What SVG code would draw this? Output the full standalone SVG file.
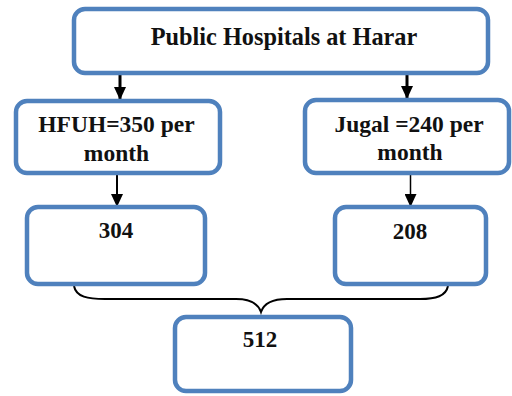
<svg xmlns="http://www.w3.org/2000/svg" width="512" height="396" viewBox="0 0 512 396">
<defs>
<style>
.box{fill:#ffffff;stroke:#4f81bd;stroke-width:4.5}
.t{font-family:"Liberation Serif","Times New Roman",serif;font-weight:bold;fill:#111111;text-anchor:middle}
.lbl{font-size:23.5px}
.num{font-size:23px}
.conn{stroke:#000000;fill:none}
</style>
<marker id="ah" viewBox="0 0 13 12" refX="12" refY="6" markerWidth="13" markerHeight="12" markerUnits="userSpaceOnUse" orient="auto">
<path d="M0,0 L13,6 L0,12 Z" fill="#000000"/>
</marker>
</defs>
<rect width="512" height="396" fill="#ffffff"/>
<g id="connectors">
<line class="conn" x1="120" y1="75" x2="120" y2="99" stroke-width="3" marker-end="url(#ah)"/>
<line class="conn" x1="407" y1="75" x2="407" y2="98" stroke-width="3" marker-end="url(#ah)"/>
<line class="conn" x1="117" y1="175" x2="117" y2="206" stroke-width="2" marker-end="url(#ah)"/>
<line class="conn" x1="410.5" y1="175" x2="410.5" y2="206" stroke-width="1.5" marker-end="url(#ah)"/>
<path class="conn" stroke-width="2" d="M74,286 C76,297 88,299 105,299 L236,299 C250,299 258,303 261,312 C264,303 272,299 287,299 L420,299 C436,299 446,296 448,286"/>
</g>
<g id="node-top">
<rect class="box" x="74" y="9" width="414" height="64" rx="11"/>
<text class="t" x="284" y="45" font-size="24.3">Public Hospitals at Harar</text>
</g>
<g id="node-hfuh">
<rect class="box" x="16" y="101" width="204" height="72" rx="11"/>
<text class="t lbl" x="116.5" y="132">HFUH=350 per</text>
<text class="t lbl" x="116.5" y="161">month</text>
</g>
<g id="node-jugal">
<rect class="box" x="305" y="100" width="204" height="73" rx="11"/>
<text class="t lbl" x="409" y="132">Jugal =240 per</text>
<text class="t lbl" x="410" y="160">month</text>
</g>
<g id="node-304">
<rect class="box" x="27" y="207" width="178" height="77" rx="11"/>
<text class="t num" x="116" y="238">304</text>
</g>
<g id="node-208">
<rect class="box" x="335" y="207" width="151" height="77" rx="11"/>
<text class="t num" x="410" y="239">208</text>
</g>
<g id="node-512">
<rect class="box" x="175" y="317" width="176" height="74" rx="11"/>
<text class="t num" x="260" y="347">512</text>
</g>
</svg>
